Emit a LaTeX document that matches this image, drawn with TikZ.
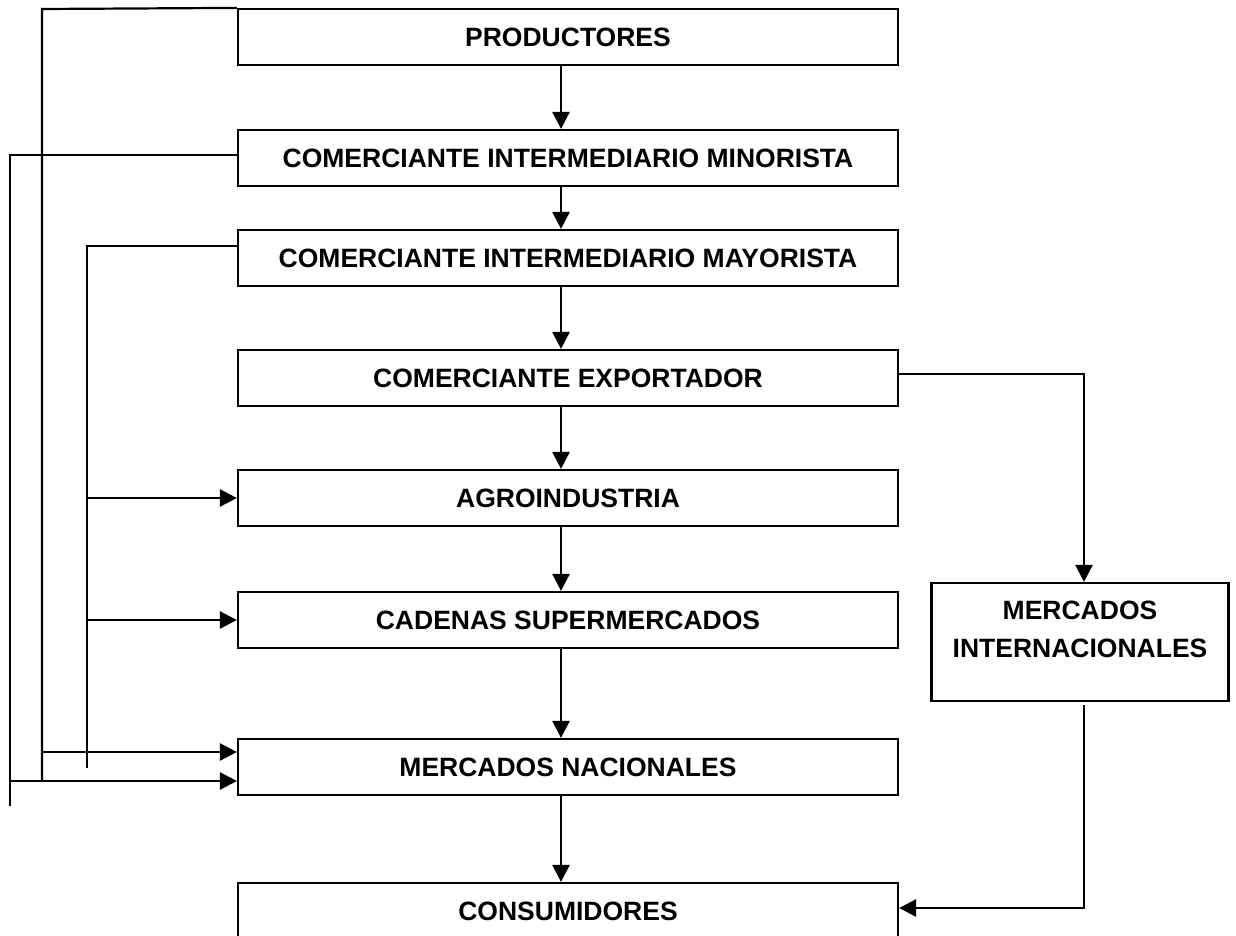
\documentclass[tikz,border=0pt]{standalone}
\usepackage{fontspec}
\setmainfont{Liberation Sans}
\usetikzlibrary{arrows.meta}
\tikzset{
  caja/.style={draw, line width=2.2pt, minimum width=660pt, minimum height=56pt,
    inner sep=0pt, font=\bfseries\fontsize{26.5}{38}\selectfont},
  linea/.style={line width=2.2pt},
  flecha/.style={line width=2.6pt, -{Triangle[length=17pt,width=17pt]}}
}
\begin{document}
\begin{tikzpicture}[x=1pt,y=-1pt]
\clip (0,0) rectangle (1236,935);

\foreach \n/\y/\t in {prod/37/PRODUCTORES,
  mino/158/COMERCIANTE INTERMEDIARIO MINORISTA,
  mayo/258/COMERCIANTE INTERMEDIARIO MAYORISTA,
  expo/378/COMERCIANTE EXPORTADOR,
  agro/498/AGROINDUSTRIA,
  cade/620/CADENAS SUPERMERCADOS,
  naci/767/MERCADOS NACIONALES,
  cons/911/CONSUMIDORES} {
  \node[caja] (\n) at (568,\y) {\t};
}

\node[caja, minimum width=297pt, minimum height=118pt, align=center]
  (inter) at (1080,642) {MERCADOS\\INTERNACIONALES\\[-12pt]\mbox{}};

\foreach \a/\b in {prod/mino,mino/mayo,mayo/expo,expo/agro,agro/cade,cade/naci,naci/cons} {
  \draw[flecha] ([xshift=-7pt]\a.south) -- ([xshift=-7pt]\b.north);
}

% lineas de la izquierda
\coordinate (p1) at (42,9);
\coordinate (p2) at (42,781);
\coordinate (m1) at (10,155);
\coordinate (m2) at (10,806);
\coordinate (y1) at (87,246);
\coordinate (y2) at (87,768);

\draw[linea] (prod.north west) -- (p1) -- (p2);
\draw[linea] ([yshift=3pt]mino.west) -- (m1) -- (m2);
\draw[linea] ([yshift=12pt]mayo.west) -- (y1) -- (y2);

\draw[flecha] (p1 |- 0,752) -- ([yshift=15pt]naci.west);
\draw[flecha] (m1 |- 0,781) -- ([yshift=-14pt]naci.west);
\draw[flecha] (y1 |- agro.west) -- (agro.west);
\draw[flecha] (y1 |- cade.west) -- (cade.west);

% mercado externo
\draw[flecha] ([yshift=4pt]expo.east) -| ([xshift=4pt]inter.north);
\draw[flecha] ([xshift=4pt,yshift=-3pt]inter.south) |- ([yshift=3pt]cons.east);
\end{tikzpicture}
\end{document}
